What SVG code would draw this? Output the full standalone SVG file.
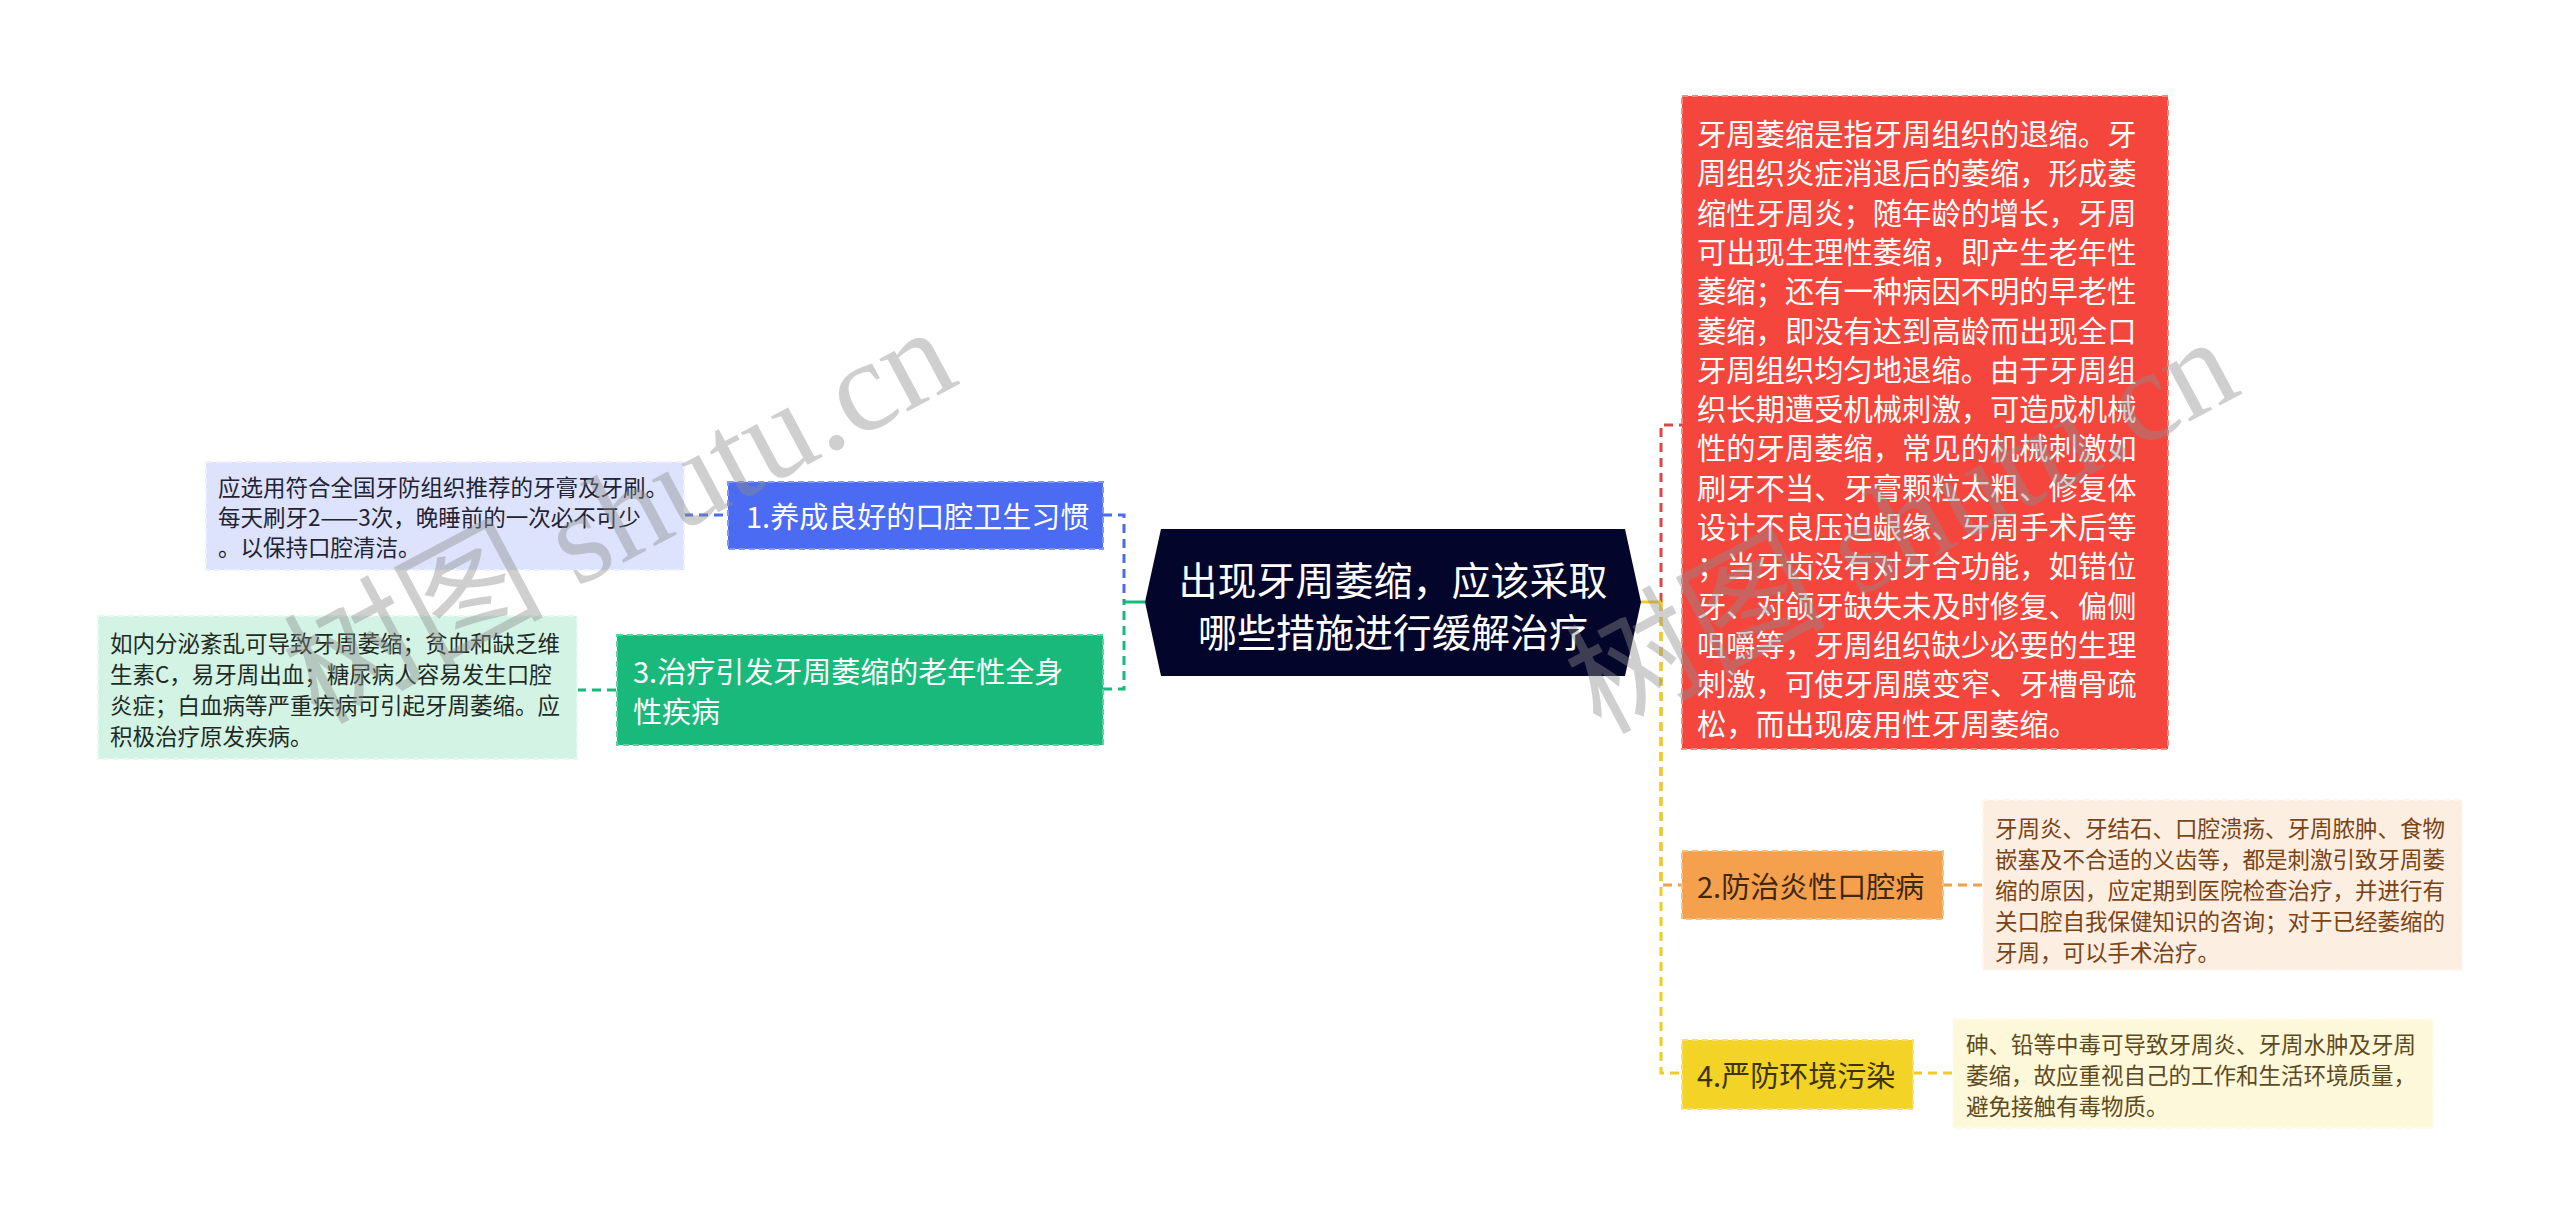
<svg xmlns="http://www.w3.org/2000/svg" width="2560" height="1227" viewBox="0 0 2560 1227">
<style>
text{font-family:"Noto Sans CJK SC","Liberation Sans",sans-serif}
.c{fill:none;stroke-width:3;stroke-dasharray:9 6}
.s{fill:none;stroke-width:3}
.nd{stroke-width:2;stroke-dasharray:6 4}
.nt{font-size:29px;dominant-baseline:central}
.dt{font-size:22.5px;dominant-baseline:central}
.wm{font-family:"Liberation Serif","Noto Sans CJK SC",serif;font-size:130px;fill:#8c8c8c;fill-opacity:0.42}
</style>
<rect width="2560" height="1227" fill="#ffffff"/>
<g id="connectors">
<path class="c" stroke="#4b6bf2" d="M1103,515 H1124 V602"/>
<path class="c" stroke="#19b97b" d="M1103,689 H1124 V602"/>
<path class="s" stroke="#19b97b" d="M1124,602 H1145"/>
<path class="c" stroke="#4b6bf2" d="M684,515 H728"/>
<path class="c" stroke="#19b97b" d="M577,690 H617"/>
<path class="c" stroke="#e04444" d="M1661,602 V425 H1682"/>
<path class="c" stroke="#f0a04c" d="M1661,602 V885 H1682"/>
<path class="c" stroke="#f0cc22" d="M1661,602 V1073 H1682"/>
<path class="s" stroke="#f0cc22" d="M1641,602 H1661"/>
<path class="c" stroke="#f0a04c" d="M1943,885 H1983"/>
<path class="c" stroke="#f0cc22" d="M1913,1073 H1953"/>
</g>
<g id="center">
<polygon points="1145,602 1161,529 1625,529 1641,602 1625,676 1161,676" fill="#04052b"/>
<text x="1393" y="578" font-size="39" fill="#ffffff" text-anchor="middle" dominant-baseline="central">出现牙周萎缩，应该采取</text>
<text x="1393" y="630" font-size="39" fill="#ffffff" text-anchor="middle" dominant-baseline="central">哪些措施进行缓解治疗</text>
</g>
<g id="n1">
<rect x="728" y="482" width="375" height="67" fill="#4b6bf2" stroke="#8096f6" class="nd"/>
<text class="nt" x="746" y="515" fill="#ffffff">1.养成良好的口腔卫生习惯</text>
</g>
<g id="n1d">
<rect x="206" y="462" width="478" height="108" fill="#dde3fc" stroke="#eef1fe" class="nd"/>
<text class="dt" x="218" y="486" fill="#222233">应选用符合全国牙防组织推荐的牙膏及牙刷。</text>
<text class="dt" x="218" y="516" fill="#222233">每天刷牙2——3次，晚睡前的一次必不可少</text>
<text class="dt" x="218" y="546" fill="#222233">。以保持口腔清洁。</text>
</g>
<g id="n3">
<rect x="617" y="635" width="486" height="110" fill="#19b97b" stroke="#5fd0a2" class="nd"/>
<text class="nt" x="633" y="670" fill="#ffffff">3.治疗引发牙周萎缩的老年性全身</text>
<text class="nt" x="633" y="710" fill="#ffffff">性疾病</text>
</g>
<g id="n3d">
<rect x="98" y="616" width="479" height="143" fill="#d3f3e4" stroke="#e8f9f1" class="nd"/>
<text class="dt" x="110" y="642" fill="#1f2a25">如内分泌紊乱可导致牙周萎缩；贫血和缺乏维</text>
<text class="dt" x="110" y="673" fill="#1f2a25">生素C，易牙周出血；糖尿病人容易发生口腔</text>
<text class="dt" x="110" y="704" fill="#1f2a25">炎症；白血病等严重疾病可引起牙周萎缩。应</text>
<text class="dt" x="110" y="735" fill="#1f2a25">积极治疗原发疾病。</text>
</g>
<g id="nred">
<rect x="1682" y="96" width="486" height="653" fill="#f5463e" stroke="#f88a84" class="nd"/>
<g fill="#ffffff" font-size="29.3" dominant-baseline="central">
<text x="1697" y="132">牙周萎缩是指牙周组织的退缩。牙</text>
<text x="1697" y="171.3">周组织炎症消退后的萎缩，形成萎</text>
<text x="1697" y="210.6">缩性牙周炎；随年龄的增长，牙周</text>
<text x="1697" y="249.9">可出现生理性萎缩，即产生老年性</text>
<text x="1697" y="289.2">萎缩；还有一种病因不明的早老性</text>
<text x="1697" y="328.5">萎缩，即没有达到高龄而出现全口</text>
<text x="1697" y="367.8">牙周组织均匀地退缩。由于牙周组</text>
<text x="1697" y="407.1">织长期遭受机械刺激，可造成机械</text>
<text x="1697" y="446.4">性的牙周萎缩，常见的机械刺激如</text>
<text x="1697" y="485.7">刷牙不当、牙膏颗粒太粗、修复体</text>
<text x="1697" y="525">设计不良压迫龈缘、牙周手术后等</text>
<text x="1697" y="564.3">；当牙齿没有对牙合功能，如错位</text>
<text x="1697" y="603.6">牙、对颌牙缺失未及时修复、偏侧</text>
<text x="1697" y="642.9">咀嚼等，牙周组织缺少必要的生理</text>
<text x="1697" y="682.2">刺激，可使牙周膜变窄、牙槽骨疏</text>
<text x="1697" y="721.5">松，而出现废用性牙周萎缩。</text>
</g>
</g>
<g id="n2">
<rect x="1682" y="851" width="261" height="68" fill="#f5a04c" stroke="#f8c085" class="nd"/>
<text class="nt" x="1697" y="885" fill="#40270f">2.防治炎性口腔病</text>
</g>
<g id="n2d">
<rect x="1983" y="800" width="479" height="170" fill="#fdeee2" stroke="#fef6ef" class="nd"/>
<text class="dt" x="1995" y="827" fill="#7a4415">牙周炎、牙结石、口腔溃疡、牙周脓肿、食物</text>
<text class="dt" x="1995" y="858" fill="#7a4415">嵌塞及不合适的义齿等，都是刺激引致牙周萎</text>
<text class="dt" x="1995" y="889" fill="#7a4415">缩的原因，应定期到医院检查治疗，并进行有</text>
<text class="dt" x="1995" y="920" fill="#7a4415">关口腔自我保健知识的咨询；对于已经萎缩的</text>
<text class="dt" x="1995" y="951" fill="#7a4415">牙周，可以手术治疗。</text>
</g>
<g id="n4">
<rect x="1682" y="1040" width="231" height="69" fill="#f2d326" stroke="#f6e170" class="nd"/>
<text class="nt" x="1697" y="1074" fill="#3d3400">4.严防环境污染</text>
</g>
<g id="n4d">
<rect x="1953" y="1019" width="480" height="109" fill="#fdf8d9" stroke="#fefbeb" class="nd"/>
<text class="dt" x="1966" y="1043" fill="#5e4a1c">砷、铅等中毒可导致牙周炎、牙周水肿及牙周</text>
<text class="dt" x="1966" y="1074" fill="#5e4a1c">萎缩，故应重视自己的工作和生活环境质量，</text>
<text class="dt" x="1966" y="1105" fill="#5e4a1c">避免接触有毒物质。</text>
</g>
<g id="watermark">
<text class="wm" transform="translate(318,725) rotate(-28)">树图 shutu.cn</text>
<text class="wm" transform="translate(1600,735) rotate(-28)">树图 shutu.cn</text>
</g>
</svg>
